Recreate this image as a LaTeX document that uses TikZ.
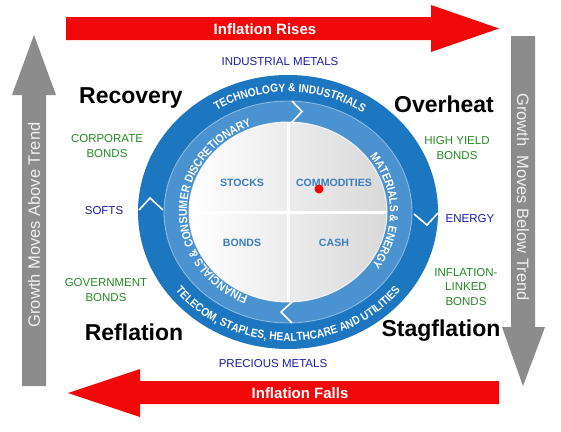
\documentclass[tikz,border=0pt]{standalone}
\usepackage{fontspec}
\setmainfont{Liberation Sans}
\newfontfamily\bandfont[FakeStretch=0.88]{Liberation Sans}
\usetikzlibrary{decorations.text}
\definecolor{darkband}{RGB}{28,118,192}
\definecolor{lightband}{RGB}{74,147,208}
\definecolor{quadtext}{RGB}{60,126,190}
\definecolor{assetgreen}{RGB}{38,138,38}
\definecolor{assetblue}{RGB}{28,28,172}
\definecolor{arrowred}{RGB}{242,8,8}
\definecolor{arrowgray}{RGB}{140,140,140}
\newcommand{\bandA}{\bandfont\bfseries\fontsize{11.6}{13}\selectfont\color{white}}
\newcommand{\bandB}{\bandfont\bfseries\fontsize{11.8}{13}\selectfont\color{white}}
\begin{document}
\begin{tikzpicture}[x=1pt,y=1pt,
  asset/.style={font=\fontsize{11.5}{14.5}\selectfont, align=center, inner sep=0pt},
  agreen/.style={asset, text=assetgreen},
  ablue/.style={asset, text=assetblue},
  phase/.style={font=\bfseries\fontsize{23}{25}\selectfont, inner sep=0pt},
  flowtext/.style={font=\bfseries\fontsize{15}{17}\selectfont, text=white, inner sep=0pt},
  growthtext/.style={font=\fontsize{16.5}{18}\selectfont, text=white!88!gray, inner sep=0pt},
  quad/.style={font=\bfseries\fontsize{10.6}{12}\selectfont, text=quadtext, inner sep=0pt},
  chevron/.style={white, line width=1.6pt, line join=miter},
  bandtext/.style={decorate, decoration={text along path, text align=center, text={#1}}}
]
\useasboundingbox (0,0) rectangle (561,-431);
\fill[white] (0,0) rectangle (561,-431);

% red arrows
\fill[arrowred] (66,-17) -- (431,-17) -- (431,-5) -- (499,-28.5) -- (431,-52) -- (431,-40) -- (66,-40) -- cycle;
\node[flowtext] (rises) at (265,-29) {Inflation Rises};
\fill[arrowred] (499,-381) -- (140,-381) -- (140,-369) -- (68,-393) -- (140,-417) -- (140,-404) -- (499,-404) -- cycle;
\node[flowtext] (falls) at (300,-393) {Inflation Falls};

% gray arrows
\fill[arrowgray] (22,-386) -- (22,-95) -- (12,-95) -- (34,-35) -- (56,-95) -- (46,-95) -- (46,-386) -- cycle;
\node[growthtext, rotate=90] (above) at (34,-225) {Growth Moves Above Trend};
\fill[arrowgray] (511,-36) -- (535,-36) -- (535,-327) -- (545,-327) -- (523,-386) -- (502,-327) -- (511,-327) -- cycle;
\node[growthtext, rotate=-90] (below) at (523,-197) {Growth\ \ Moves Below Trend};

% wheel
\begin{scope}[shift={(288,-212)}]
  \fill[darkband] (0,0) ellipse[x radius=150, y radius=137];
  \fill[lightband] (0,0) ellipse[x radius=124, y radius=111];
  \draw[white, opacity=0.45, line width=0.8pt] (0,0) ellipse[x radius=124, y radius=111];
  \shade[left color=white, right color=black!15] (0,0) ellipse[x radius=99, y radius=90];
  \draw[white, opacity=0.8, line width=1pt] (0,0) ellipse[x radius=99, y radius=90];
  \draw[white, line width=3pt] (0,90) -- (0,-90);
  \draw[white, line width=3pt] (-99,0) -- (99,0);
  % chevrons
  \draw[chevron] (4,111) -- (14,100.5) -- (4,90);
  \draw[chevron] (4,-90) -- (-7,-100) -- (4,-111);
  \draw[chevron] (-149,2) -- (-138,14) -- (-125,2);
  \draw[chevron] (126,-2) -- (139,-13) -- (150,-1);
  % band texts
  \path[bandtext={|\bandA|TECHNOLOGY {\&} INDUSTRIALS}]
    (170:133 and 120) arc[start angle=170, end angle=8, x radius=133, y radius=120];
  \path[bandtext={|\bandA|TELECOM, STAPLES, HEALTHCARE AND UTILITIES}]
    (190:142 and 129) arc[start angle=190, end angle=350, x radius=142, y radius=129];
  \path[bandtext={|\bandB|FINANCIALS {\&} CONSUMER DISCRETIONARY}]
    (266:101 and 92) arc[start angle=266, end angle=92, x radius=101, y radius=92];
  \path[bandtext={|\bandB|MATERIALS {\&} ENERGY}]
    (62:102 and 93) arc[start angle=62, end angle=-60, x radius=102, y radius=93];
\end{scope}

% quadrant labels
\node[quad] (stocks) at (242,-183) {STOCKS};
\node[quad] (commod) at (334,-183) {COMMODITIES};
\node[quad] (bonds) at (242,-243) {BONDS};
\node[quad] (cash) at (334,-243) {CASH};
\fill[red] (319,-189) circle[radius=4.5];

% phases
\node[phase] (recovery) at (131,-98) {Recovery};
\node[phase] (overheat) at (444,-104) {Overheat};
\node[phase] (reflation) at (134,-332) {Reflation};
\node[phase] (stagflation) at (441,-331) {Stagflation};

% assets
\node[ablue] (indmet) at (280,-62) {INDUSTRIAL METALS};
\node[ablue] (precmet) at (273,-364) {PRECIOUS METALS};
\node[ablue] (softs) at (104,-211) {SOFTS};
\node[ablue] (energy) at (470,-219) {ENERGY};
\node[agreen] (corp) at (107,-146) {CORPORATE\\BONDS};
\node[agreen] (govt) at (106,-290) {GOVERNMENT\\BONDS};
\node[agreen] (hy) at (457,-148) {HIGH YIELD\\BONDS};
\node[agreen] (ilb) at (466,-287) {INFLATION-\\LINKED\\BONDS};
\end{tikzpicture}
\end{document}
